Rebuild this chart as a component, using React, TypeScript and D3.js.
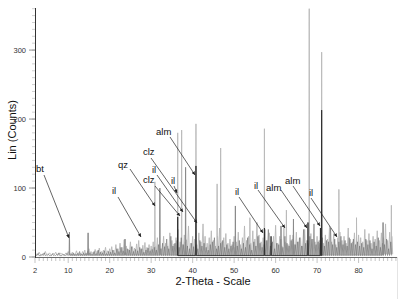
import React from "react";
import * as d3 from "d3";

const W = 403, H = 299;
const xTicks = [2, 10, 20, 30, 40, 50, 60, 70, 80];
const yTicks = [0, 100, 200, 300];

const noiseLightStart = 2;
const noiseLight = [
  6,4,7,3,5,8,4,6,3,5,7,4,6,5,3,6,8,
  5,7,4,9,6,5,8,10,6,12,8,7,11,9,13,8,10,14,9,12,
  15,10,18,12,20,14,25,16,11,22,15,13,19,24,12,17,21,14,18,16,
  22,15,28,18,12,30,20,16,35,24,19,28,40,22,18,32,25,45,20,30,
  26,18,35,22,48,30,20,28,38,24,16,30,42,22,28,34,20,26,18,30,
  22,36,18,28,45,24,30,20,38,26,50,32,22,28,40,24,35,20,30,46,
  20,30,16,42,22,18,32,26,18,36,22,28,16,40,24,20,34,26,22,30,
  24,38,20,32,26,45,22,34,18,28,36,24,30,20,42,26,22,35,24,32,
  28,22,40,24,34,20,30,26,38,24,35,28,48,24,36,30,
];
const noiseDarkStart = 2.25;
const noiseDark = [
  3,5,2,4,6,3,4,2,5,3,4,6,2,4,3,5,4,
  4,6,3,5,8,4,6,5,9,6,4,8,5,10,7,6,9,5,8,7,
  10,6,12,8,14,9,7,12,10,15,8,11,9,14,12,7,10,13,9,11,
  14,10,18,12,20,15,26,12,30,16,20,24,14,28,18,22,16,12,20,15,
  18,12,24,16,20,14,10,18,22,28,12,16,20,24,14,18,12,16,22,14,
  16,24,12,20,14,28,18,10,22,16,30,20,14,18,24,40,16,22,12,20,
  18,26,14,30,20,16,24,32,18,22,28,16,40,20,24,30,26,48,18,22,
  20,28,16,24,22,42,18,26,14,22,30,18,24,16,28,20,26,18,22,16,
  20,14,26,18,24,12,22,16,28,14,20,18,26,12,22,
];
const noiseStep = 0.5;

const lightPeaks: [number, number][] = [
  [30.9,109],[36.4,180],[37.35,184],[40.8,193],[45.9,106],[46.75,158],[53.8,57],
  [57.3,186],[62.6,68],[68.1,360],[71.1,297],[75.25,98],[79.5,57],[87.9,75],
];
const midPeaks: [number, number][] = [
  [10.3,36],[14.8,35],[23.7,26],[32.1,100],[38.3,130],[50.3,74],[61.3,45],[64.3,55],[85.9,50],
];
const darkPeaks: [number, number][] = [
  [36.4,58],[40.8,132],[57.3,42],[58.9,30],[67.8,50],[70.8,42],[71.1,213],
];

const labels = [
  { t: "bt", x: 36, y: 172, x1: 44, y1: 175, x2: 69, y2: 238 },
  { t: "il", x: 112, y: 194, x1: 118, y1: 197, x2: 141, y2: 237 },
  { t: "qz", x: 118, y: 168, x1: 130, y1: 169, x2: 155, y2: 206 },
  { t: "alm", x: 156, y: 135, x1: 170, y1: 137, x2: 195, y2: 175 },
  { t: "clz", x: 143, y: 155, x1: 151, y1: 158, x2: 197, y2: 223 },
  { t: "il", x: 152, y: 173, x1: 157, y1: 175, x2: 183, y2: 212 },
  { t: "clz", x: 143, y: 183, x1: 155, y1: 186, x2: 180, y2: 216 },
  { t: "il", x: 171, y: 184, x1: 174, y1: 186, x2: 177, y2: 193 },
  { t: "il", x: 235, y: 195, x1: 239, y1: 197, x2: 263, y2: 233 },
  { t: "il", x: 254, y: 189, x1: 258, y1: 190, x2: 285, y2: 228 },
  { t: "alm", x: 266, y: 191, x1: 281, y1: 190, x2: 307, y2: 228 },
  { t: "alm", x: 285, y: 184, x1: 293, y1: 186, x2: 320, y2: 226 },
  { t: "il", x: 309, y: 196, x1: 311, y1: 198, x2: 337, y2: 237 },
];

const x = d3.scaleLinear().domain([2, 89.5]).range([35, 398]);
const y = d3.scaleLinear().domain([0, 361]).range([257, 8]);

function seriesPoints(noise: number[], start: number, peaks: [number, number][], base: number) {
  const pts: [number, number][] = [];
  noise.forEach((v, i) => {
    const t = start + i * noiseStep;
    pts.push([t, v], [t + 0.22, base]);
  });
  peaks.forEach(([t, v]) => {
    pts.push([t - 0.07, base], [t, v], [t + 0.07, base]);
  });
  return pts.sort((a, b) => a[0] - b[0]);
}

const line = d3.line<[number, number]>().x(d => x(d[0])).y(d => y(d[1]));

export default function App() {
  const light = seriesPoints(noiseLight, noiseLightStart, lightPeaks, 4);
  const darkNoise = seriesPoints(noiseDark, noiseDarkStart, [], 2);
  const dark = seriesPoints([], 0, darkPeaks, 2);
  const mid = seriesPoints([], 0, midPeaks, 3);
  const minorY = d3.range(0, 361, 10);
  const minorX = d3.range(2, 90, 1);
  const font = "Arial, 'Liberation Sans', sans-serif";
  return (
    <svg width={W} height={H} style={{ position: "absolute", left: 0, top: 0, background: "#fff" }}>
      <defs>
        <marker id="ah" viewBox="0 0 6 6" refX="6" refY="3" markerWidth="5" markerHeight="5" orient="auto">
          <path d="M0,0L6,3L0,6z" fill="#222" />
        </marker>
      </defs>
      <path d={line(light) || ""} fill="none" stroke="#b8b8b8" strokeWidth={0.9} />
      <path d={line(darkNoise) || ""} fill="none" stroke="#6e6e6e" strokeWidth={0.6} />
      <path d={line(mid) || ""} fill="none" stroke="#8a8a8a" strokeWidth={1} />
      <path d={line(dark) || ""} fill="none" stroke="#2a2a2a" strokeWidth={0.9} />
      <line x1={35} x2={398} y1={257.5} y2={257.5} stroke="#444" strokeWidth={0.8} />
      <line x1={397.5} x2={397.5} y1={257} y2={299} stroke="#e4e4e4" />
      {minorX.map(t => (
        <line key={"mx" + t} x1={x(t)} x2={x(t)} y1={258} y2={t % 10 === 0 || t === 2 ? 263 : 261} stroke="#aaa" strokeWidth={0.7} />
      ))}
      {xTicks.map(t => (
        <text key={"xt" + t} x={x(t)} y={273} fontSize={7.5} textAnchor="middle" fill="#333" fontFamily={font}>{t}</text>
      ))}
      <line x1={35.5} x2={35.5} y1={8} y2={258} stroke="#333" strokeWidth={1} />
      {minorY.map(v => (
        <line key={"my" + v} x1={32} x2={35} y1={y(v)} y2={y(v)} stroke="#bbb" strokeWidth={0.7} />
      ))}
      {yTicks.map(v => (
        <g key={"yt" + v}>
          <line x1={29} x2={35} y1={y(v)} y2={y(v)} stroke="#666" strokeWidth={0.7} />
          <text x={26} y={y(v) + 2.5} fontSize={7.5} textAnchor="end" fill="#333" fontFamily={font}>{v}</text>
        </g>
      ))}
      <text x={213} y={285} fontSize={11} textAnchor="middle" fill="#111" fontFamily={font}>2-Theta - Scale</text>
      <text transform="translate(16,130) rotate(-90)" fontSize={11} textAnchor="middle" fill="#111" fontFamily={font}>Lin (Counts)</text>
      {labels.map((l, i) => (
        <g key={"l" + i}>
          <line x1={l.x1} y1={l.y1} x2={l.x2} y2={l.y2} stroke="#222" strokeWidth={0.7} markerEnd="url(#ah)" />
          <text x={l.x} y={l.y} fontSize={9.5} fill="#111" fontFamily={font}>{l.t}</text>
        </g>
      ))}
    </svg>
  );
}
